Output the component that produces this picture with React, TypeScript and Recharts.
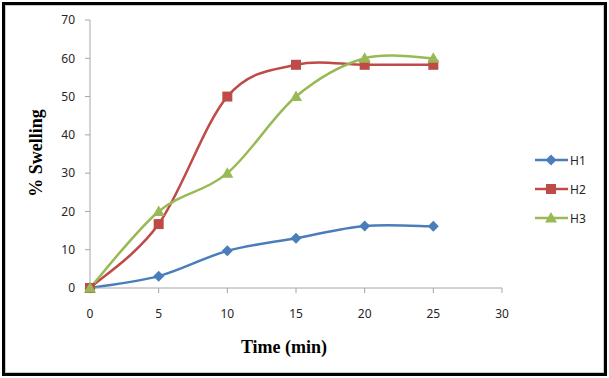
import { LineChart, Line, XAxis, YAxis } from 'recharts'

const times = [0, 5, 10, 15, 20, 25]
const h1 = [0, 3.1, 9.7, 13, 16.2, 16.1]
const h2 = [0, 16.7, 50, 58.3, 58.3, 58.3]
const h3 = [0, 20, 30, 50, 60, 60]

const xTicks = [0, 5, 10, 15, 20, 25, 30]
const yTicks = [0, 10, 20, 30, 40, 50, 60, 70]

const seriesNames = ['H1', 'H2', 'H3']
const seriesColors = ['#4a7ebb', '#be4b48', '#98b954']

const data = times.map((t, i) => ({ t, H1: h1[i], H2: h2[i], H3: h3[i] }))

// Excel-style smoothed line (Catmull-Rom like bezier)
function excelSmooth(context: any) {
  let pts: number[][] = []
  return {
    areaStart() {},
    areaEnd() {},
    lineStart() {
      pts = []
    },
    point(x: number, y: number) {
      pts.push([+x, +y])
    },
    lineEnd() {
      if (!pts.length) return
      context.moveTo(pts[0][0], pts[0][1])
      for (let i = 0; i < pts.length - 1; i++) {
        const p0 = pts[i - 1] || pts[i]
        const p1 = pts[i]
        const p2 = pts[i + 1]
        const p3 = pts[i + 2] || pts[i + 1]
        context.bezierCurveTo(
          p1[0] + (p2[0] - p0[0]) / 6,
          p1[1] + (p2[1] - p0[1]) / 6,
          p2[0] - (p3[0] - p1[0]) / 6,
          p2[1] - (p3[1] - p1[1]) / 6,
          p2[0],
          p2[1],
        )
      }
    },
  }
}

function Marker({ cx, cy, shape, color }: any) {
  if (cx == null || cy == null) return null
  if (shape === 0) {
    const r = 5.5
    return <path d={`M${cx},${cy - r}L${cx + r},${cy}L${cx},${cy + r}L${cx - r},${cy}Z`} fill={color} />
  }
  if (shape === 1) {
    return <rect x={cx - 5} y={cy - 5} width={10} height={10} fill={color} />
  }
  return <path d={`M${cx},${cy - 6}L${cx + 6},${cy + 4.5}L${cx - 6},${cy + 4.5}Z`} fill={color} />
}

const tickStyle = { fontSize: 12, fill: '#262626', fontFamily: 'Noto Sans, sans-serif' }

export default function App() {
  return (
    <div style={{ position: 'relative', width: 609, height: 378, background: '#fff' }}>
      <style>{`body{margin:0}`}</style>
      <div
        style={{
          position: 'absolute',
          left: 2,
          top: 2,
          width: 605,
          height: 374,
          border: '3px solid #000',
          boxSizing: 'border-box',
        }}
      >
        <div style={{ position: 'absolute', inset: 0, border: '1px solid #c8c8c8' }} />
      </div>
      <div style={{ position: 'absolute', left: 0, top: 0 }}>
        <LineChart width={609} height={378} data={data} margin={{ top: 20, right: 107, left: 30, bottom: 60 }}>
          <XAxis
            dataKey="t"
            type="number"
            domain={[0, 30]}
            ticks={xTicks}
            tick={tickStyle}
            tickSize={5}
            tickMargin={16}
            height={30}
            stroke="#a6a6a6"
          />
          <YAxis
            type="number"
            domain={[0, 70]}
            ticks={yTicks}
            tick={tickStyle}
            tickSize={5}
            tickMargin={10}
            width={60}
            stroke="#a6a6a6"
          />
          {seriesNames.map((name, i) => (
            <Line
              key={name}
              dataKey={name}
              type={excelSmooth as any}
              stroke={seriesColors[i]}
              strokeWidth={2.5}
              dot={(p: any) => <Marker key={p.index} cx={p.cx} cy={p.cy} shape={i} color={seriesColors[i]} />}
              activeDot={false}
              isAnimationActive={false}
            />
          ))}
        </LineChart>
      </div>
      <div
        style={{
          position: 'absolute',
          left: 36,
          top: 153,
          transform: 'translate(-50%, -50%) rotate(-90deg)',
          fontFamily: 'Liberation Serif, serif',
          fontWeight: 'bold',
          fontSize: 18,
          whiteSpace: 'nowrap',
        }}
      >
        % Swelling
      </div>
      <div
        style={{
          position: 'absolute',
          left: 284,
          top: 347,
          transform: 'translate(-50%, -50%)',
          fontFamily: 'Liberation Serif, serif',
          fontWeight: 'bold',
          fontSize: 18,
          whiteSpace: 'nowrap',
        }}
      >
        Time (min)
      </div>
      <svg style={{ position: 'absolute', left: 530, top: 145 }} width={60} height={90}>
        {seriesNames.map((name, i) => {
          const y = 15 + i * 29
          return (
            <g key={name}>
              <line x1={5} x2={38} y1={y} y2={y} stroke={seriesColors[i]} strokeWidth={2.5} />
              <Marker cx={21} cy={y} shape={i} color={seriesColors[i]} />
              <text x={40} y={y + 4.5} fontSize={12} fill="#262626" fontFamily="Noto Sans, sans-serif">
                {name}
              </text>
            </g>
          )
        })}
      </svg>
    </div>
  )
}
